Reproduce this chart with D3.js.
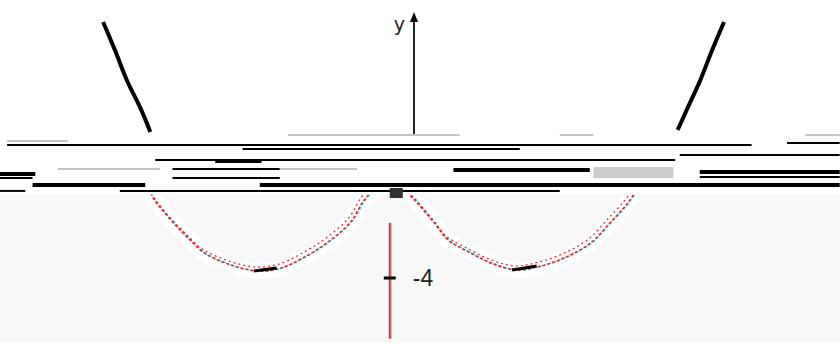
<!DOCTYPE html>
<html>
<head>
<meta charset="utf-8">
<script src="https://cdn.jsdelivr.net/npm/d3@7"></script>
<style>
body { margin: 0; background: #fff; }
svg { display: block; }
</style>
</head>
<body>
<svg id="viz"></svg>
<script>
// upper part of the curve (steep outer branches), x in units, y = f(x)
var upperLeftX = [-3.42, -3.29, -3.15, -3.01, -2.9];
var upperLeftY = [90.1, 76.6, 61.2, 48.7, 37.1];
var upperRightX = [3.41, 3.28, 3.15, 3.01, 2.9];
var upperRightY = [90.1, 76.6, 62.2, 48.7, 38.1];

// lower part of the curve (the two wells)
var lowerX = [-2.61, -2.57, -2.37, -2.2, -2.02, -1.73, -1.43, -1.18, -0.88, -0.66, -0.41, -0.26, -0.12, 0.03,
	0.2, 0.51, 0.66, 0.91, 1.13, 1.41, 1.68, 1.96, 2.23, 2.45, 2.62, 2.7];
var lowerY = [-0.22, -0.53, -1.51, -2.22, -2.89, -3.42, -3.69, -3.56, -2.98, -2.4, -1.51, -0.53, 0.0, 0.1,
	-0.2, -1.56, -2.31, -2.89, -3.33, -3.64, -3.47, -3.07, -2.44, -1.51, -0.76, -0.31];

var yTicks = [-4];
var yTickLabels = ["-4"];

// the smeared x-axis: rows of [y, xStart, xEnd, kind]
var bandRows = [
	[2.36, -1.10, 0.79, "g"], [2.09, -4.19, -3.52, "g"], [2.36, 1.89, 2.26, "g"], [2.36, 4.59, 4.97, "g"],
	[1.91, -4.19, 4.00, "k"], [2.00, 4.39, 4.97, "k"],
	[1.73, -1.60, 1.45, "k"], [1.47, 3.21, 4.97, "k"],
	[1.24, -2.56, 3.16, "k"], [1.20, -1.90, -1.39, "K"],
	[0.84, -3.63, -2.51, "g"], [0.84, -2.37, -1.19, "k"], [0.84, -1.19, -0.34, "g"], [0.80, 0.72, 2.22, "K"],
	[0.71, 3.43, 4.97, "K"], [0.62, -4.27, -3.88, "K"],
	[0.44, -4.27, -3.91, "k"], [0.44, -2.37, -1.19, "k"], [0.49, 3.43, 4.97, "k"],
	[0.13, -3.91, -2.67, "K"], [0.13, -1.41, 4.97, "K"],
	[-0.13, -4.27, -3.99, "k"], [-0.13, -2.95, 1.89, "k"]
];

var width = 840, height = 343;
var svg = d3.select("#viz").attr("width", width).attr("height", height);

var xL = d3.scaleLinear().domain([-4.268, 4.973]).range([0, width]);
var xU = d3.scaleLinear().domain([-4.554, 4.686]).range([0, width]);
var yL = d3.scaleLinear().domain([0, -4]).range([188, 278]);
var yU = d3.scaleLinear().domain([0, 100]).range([209, 1.5]);

// grey lower field
svg.append("rect")
	.attr("x", 0).attr("y", yL(-0.27))
	.attr("width", width).attr("height", height - yL(-0.27))
	.attr("fill", "#f8f8f8");

svg.append("clipPath").attr("id", "below")
	.append("rect")
	.attr("x", 0).attr("y", yL(-0.3))
	.attr("width", width).attr("height", height);

var line = d3.line().curve(d3.curveCatmullRom);

// upper axis and branches
svg.append("line")
	.attr("x1", xU(0)).attr("x2", xU(0))
	.attr("y1", yU(35.6)).attr("y2", yU(92))
	.attr("stroke", "#222").attr("stroke-width", 2);
svg.append("path")
	.attr("d", "M" + xU(0) + "," + yU(95) + "l-4,10l8,0z")
	.attr("fill", "#000");
svg.append("text")
	.attr("x", xU(0) - 9).attr("y", yU(86))
	.attr("text-anchor", "end")
	.attr("font-family", "DejaVu Sans, sans-serif").attr("font-size", 19)
	.attr("fill", "#222")
	.text("y");

[[upperLeftX, upperLeftY], [upperRightX, upperRightY]].forEach(function (s) {
	svg.append("path")
		.attr("d", line(s[0].map(function (x, i) { return [xU(x), yU(s[1][i])]; })))
		.attr("fill", "none").attr("stroke", "#000").attr("stroke-width", 4);
});

// lower wells: white halo, then red/cyan double dashed trace
var lowerPts = lowerX.map(function (x, i) { return [xL(x), yL(lowerY[i])]; });
var wells = svg.append("g").attr("clip-path", "url(#below)");
wells.append("path").attr("d", line(lowerPts))
	.attr("fill", "none").attr("stroke", "#fff").attr("stroke-width", 16);
wells.append("path").attr("d", line(lowerPts))
	.attr("transform", "translate(1,0)")
	.attr("fill", "none").attr("stroke", "#1dd").attr("stroke-width", 1.5)
	.attr("stroke-dasharray", "3,2");
wells.append("path").attr("d", line(lowerPts))
	.attr("fill", "none").attr("stroke", "#e22").attr("stroke-width", 1.5)
	.attr("stroke-dasharray", "3,2");
wells.append("path").attr("d", line(lowerPts))
	.attr("transform", "translate(-2,-4)")
	.attr("fill", "none").attr("stroke", "#e22").attr("stroke-width", 1.2)
	.attr("stroke-dasharray", "2,3");
// dark bottoms of the two wells
[[6, 8], [19, 21]].forEach(function (r) {
	wells.append("path").attr("d", line(lowerPts.slice(r[0], r[1])))
		.attr("transform", "translate(-4,0)")
		.attr("fill", "none").attr("stroke", "#000").attr("stroke-width", 3);
});

// lower (red) y axis
svg.append("line")
	.attr("x1", xL(0.02)).attr("x2", xL(0.02))
	.attr("y1", yL(-1.55)).attr("y2", yL(-6.7))
	.attr("stroke", "#e22").attr("stroke-width", 2);
svg.append("line")
	.attr("x1", xL(0.02) + 1.5).attr("x2", xL(0.02) + 1.5)
	.attr("y1", yL(-1.55)).attr("y2", yL(-6.7))
	.attr("stroke", "#1dd").attr("stroke-width", 1).attr("opacity", 0.7);
svg.selectAll("line.ytick").data(yTicks).enter().append("line")
	.attr("class", "ytick")
	.attr("x1", xL(0.02) - 6).attr("x2", xL(0.02) + 6)
	.attr("y1", function (d) { return yL(d); }).attr("y2", function (d) { return yL(d); })
	.attr("stroke", "#000").attr("stroke-width", 3);
svg.selectAll("text.ylab").data(yTicks).enter().append("text")
	.attr("class", "ylab")
	.attr("x", xL(0.02) + 23).attr("y", function (d) { return yL(d) + 8; })
	.attr("font-family", "Liberation Sans, Arial, sans-serif").attr("font-size", 23)
	.attr("fill", "#222")
	.text(function (d, i) { return yTickLabels[i]; });

// smeared x axis band
svg.append("rect")
	.attr("x", xL(2.26)).attr("y", yL(0.93))
	.attr("width", xL(3.14) - xL(2.26)).attr("height", yL(0.44) - yL(0.93))
	.attr("fill", "#ccc");
svg.selectAll("line.band").data(bandRows).enter().append("line")
	.attr("class", "band")
	.attr("x1", function (d) { return xL(d[1]); })
	.attr("x2", function (d) { return xL(d[2]); })
	.attr("y1", function (d) { return yL(d[0]); })
	.attr("y2", function (d) { return yL(d[0]); })
	.attr("stroke", function (d) { return d[3] == "g" ? "#c4c4c4" : "#000"; })
	.attr("stroke-width", function (d) { return d[3] == "K" ? 4 : 2; });

// origin block
svg.append("rect")
	.attr("x", xL(0.02)).attr("y", yL(0))
	.attr("width", 13).attr("height", 10)
	.attr("fill", "#333");
</script>
</body>
</html>
